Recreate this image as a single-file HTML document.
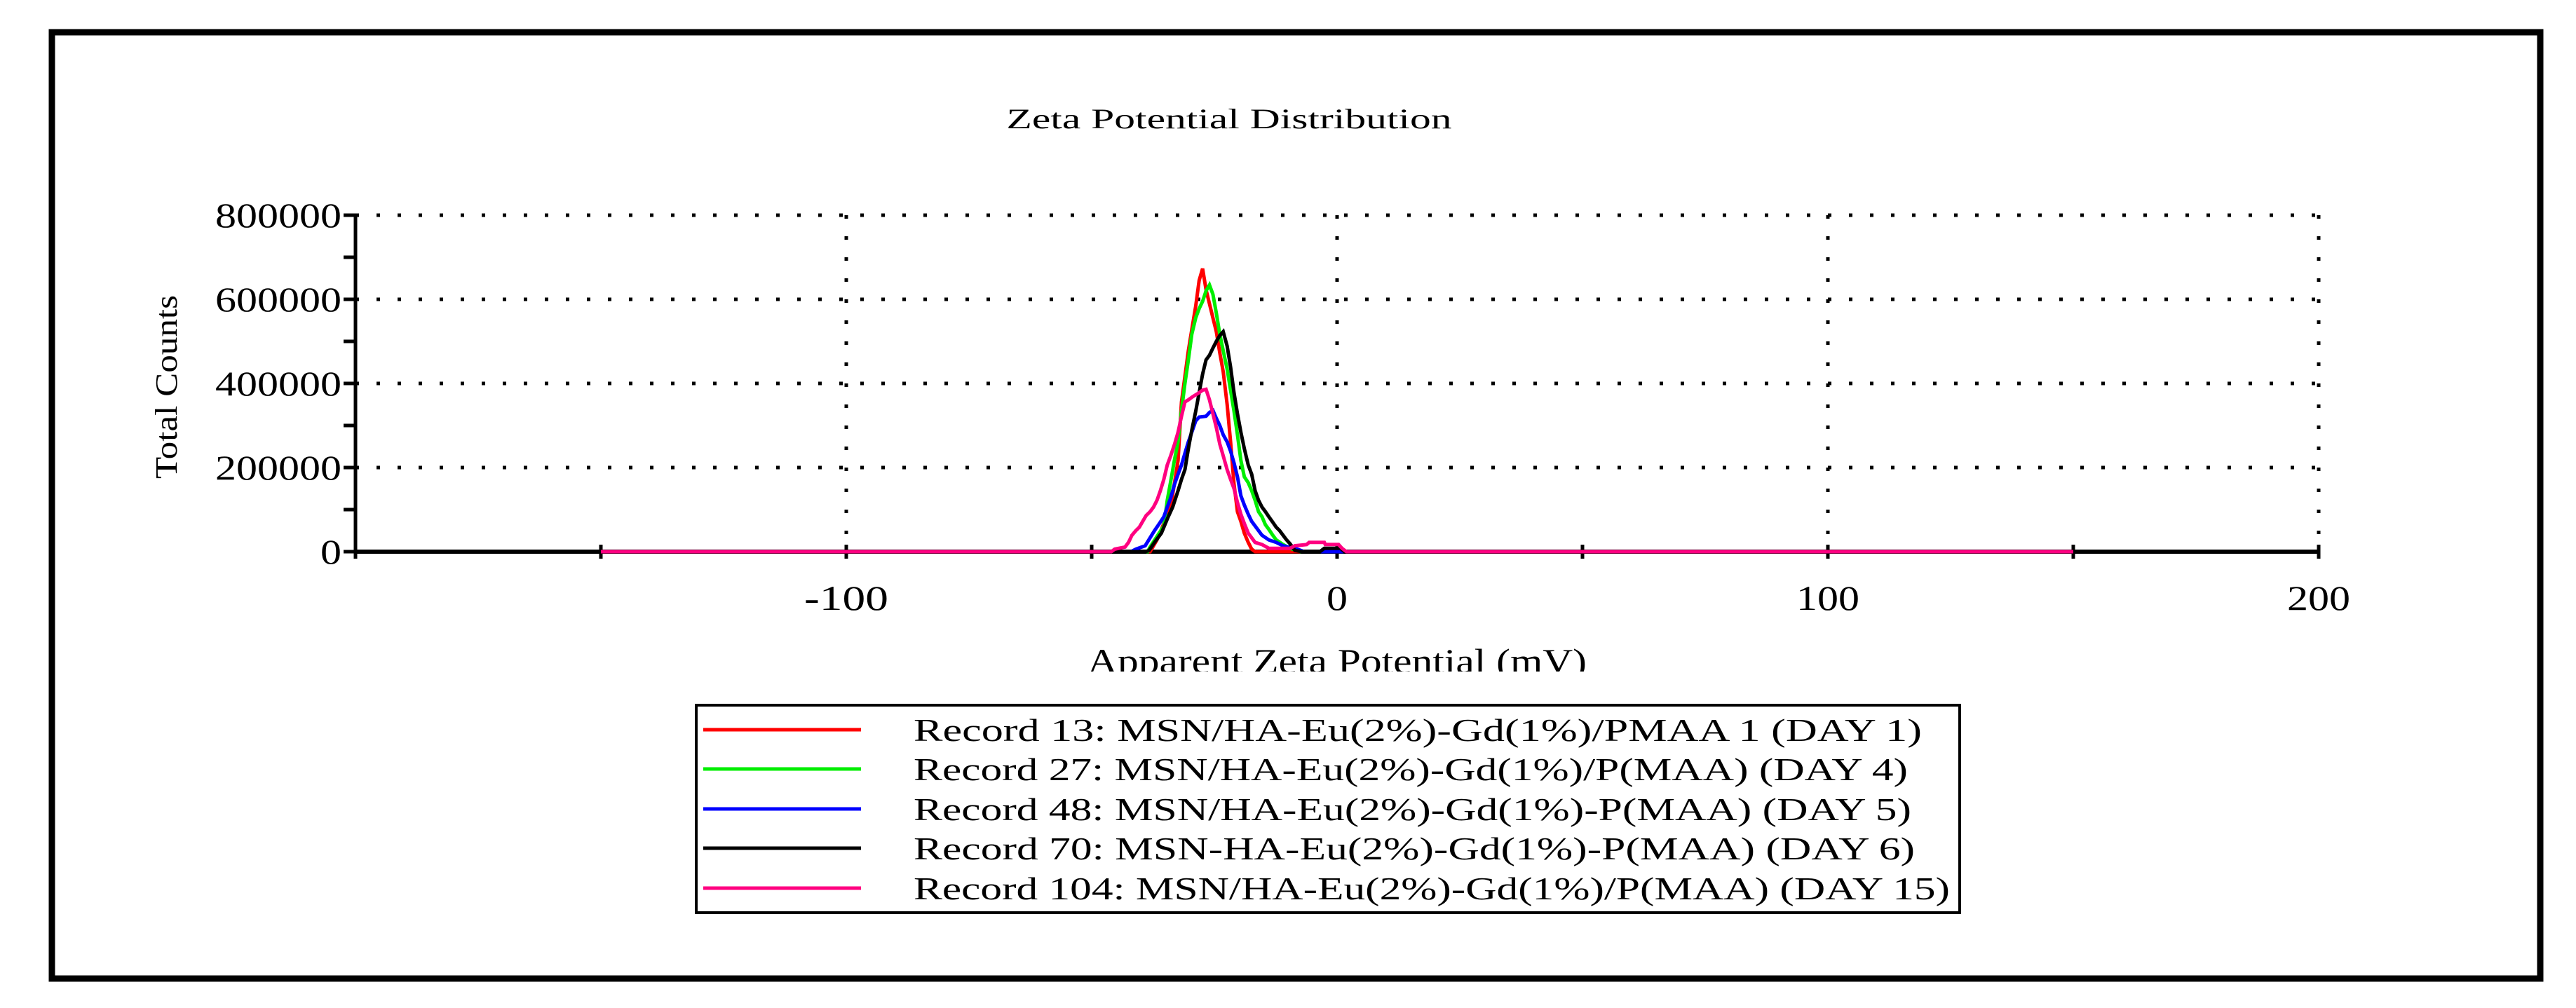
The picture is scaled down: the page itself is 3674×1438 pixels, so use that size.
<!DOCTYPE html>
<html><head><meta charset="utf-8"><style>
html,body{margin:0;padding:0;background:#fff}
svg{display:block}
text{font-family:"Liberation Serif",serif;fill:#000}
</style></head><body>
<svg id="chart" width="3674" height="1438" viewBox="0 0 3674 1438" xmlns="http://www.w3.org/2000/svg">
<rect x="0" y="0" width="3674" height="1438" fill="#fff"/>
<rect x="74" y="46" width="3549" height="1350" fill="none" stroke="#000" stroke-width="9"/>
<text x="1753" y="183" font-size="40" text-anchor="middle" textLength="635" lengthAdjust="spacingAndGlyphs">Zeta Potential Distribution</text>
<g id="grid"></g>
<g id="axes"></g>
<g id="series"></g>
<defs><clipPath id="xtclip"><rect x="0" y="900" width="3674" height="58"/></clipPath></defs>
<text clip-path="url(#xtclip)" x="1907" y="960" font-size="50" text-anchor="middle" textLength="712" lengthAdjust="spacingAndGlyphs">Apparent Zeta Potential (mV)</text>
<text transform="translate(252,552) rotate(-90)" font-size="44" text-anchor="middle" textLength="262" lengthAdjust="spacingAndGlyphs">Total Counts</text>
<g id="legend">
<rect x="993" y="1006" width="1802" height="296" fill="#fff" stroke="#000" stroke-width="4"/>
</g>
</svg>
<script>
const xTicks=[-100,0,100,200];
const yTicks=[0,200000,400000,600000,800000];
const yTickLabels=["0","200000","400000","600000","800000"];
const seriesNames=["Record 13: MSN/HA-Eu(2%)-Gd(1%)/PMAA 1  (DAY 1)","Record 27: MSN/HA-Eu(2%)-Gd(1%)/P(MAA) (DAY 4)","Record 48: MSN/HA-Eu(2%)-Gd(1%)-P(MAA) (DAY 5)","Record 70: MSN-HA-Eu(2%)-Gd(1%)-P(MAA) (DAY 6)","Record 104: MSN/HA-Eu(2%)-Gd(1%)/P(MAA) (DAY 15)"];
const seriesColors=["#ff0000","#00ee00","#0000ff","#000000","#ff0080"];
const redX=[-150,-38.1,-36.7,-33.9,-32.4,-31.7,-31.0,-30.3,-29.6,-28.8,-28.1,-27.4,-26.7,-25.3,-24.6,-23.9,-23.2,-22.4,-21.7,-21.0,-20.3,-19.6,-18.9,-18.1,-17.4,-16.7,150];
const redY=[0,0,28,106,217,356,417,478,528,584,645,673,623,556,523,473,428,350,261,161,95,72,44,22,6,0,0];
const greenX=[-150,-38.6,-38.1,-35.3,-34.6,-33.9,-33.1,-32.4,-31.7,-31.0,-30.3,-29.6,-28.8,-28.1,-27.4,-26.7,-26.0,-25.3,-24.6,-23.9,-23.2,-22.4,-21.7,-21.0,-20.3,-19.6,-18.9,-18.1,-17.4,-16.7,-16.0,-15.3,-14.6,-13.9,-13.1,-12.4,-11.0,-9.6,-7.4,150];
const greenY=[0,0,11,61,122,167,220,261,336,400,456,517,556,578,595,620,634,612,567,517,478,434,384,334,278,217,178,164,145,122,95,83,64,53,39,28,17,8,0,0];
const blueX=[-150,-42,-41.0,-39.1,-38.1,-37.2,-36.2,-35.3,-34.6,-33.9,-33.1,-32.4,-31.7,-31.0,-30.3,-29.6,-28.8,-28.1,-26.7,-26.0,-25.3,-24.6,-23.9,-23.2,-22.4,-21.7,-21.0,-20.3,-19.6,-18.9,-18.1,-17.4,-16.7,-16.0,-15.3,-13.9,-12.4,-11.0,-8.1,-6.7,150];
const blueY=[0,0,6,14,33,50,67,83,106,128,161,184,206,234,261,284,311,320,322,331,336,317,300,278,261,239,211,178,133,111,89,72,61,50,39,28,22,14,6,0,0];
const blackX=[-150,-39,-38.3,-37.2,-35.8,-34.4,-33.5,-32.4,-31.7,-31.0,-30.3,-29.6,-28.8,-28.1,-27.4,-26.7,-26.0,-25.3,-24.6,-23.9,-23.2,-22.4,-21.7,-21.0,-20.3,-19.6,-18.9,-18.1,-17.4,-16.7,-16.0,-15.3,-14.6,-13.9,-13.1,-12.4,-11.7,-11.0,-10.3,-9.6,-8.6,-7.2,-3.5,-2.6,0.7,1.5,150];
const blackY=[0,0,3,22,44,83,106,145,172,195,245,289,334,378,422,456,467,484,500,514,523,489,439,378,328,284,245,206,184,145,122,106,95,83,70,58,50,39,28,19,3,0,0,8,8,0,0];
const pinkX=[-150,-46,-45.3,-43.2,-42.5,-41.8,-41.0,-40.3,-39.6,-38.9,-38.1,-37.4,-36.7,-36.0,-35.3,-34.6,-33.9,-33.1,-32.4,-31.7,-31.0,-30.3,-29.6,-28.8,-28.1,-27.4,-26.7,-26.0,-25.3,-24.6,-23.9,-23.2,-22.4,-21.7,-21.0,-20.3,-19.6,-18.9,-18.1,-17.4,-16.7,-15.3,-13.9,-9.6,-8.6,-6.2,-5.7,-2.6,-2.4,0.3,1.0,1.9,150];
const pinkY=[0,0,6,11,22,39,50,58,72,86,95,106,122,145,172,206,228,256,284,322,356,361,367,373,378,384,386,361,328,295,256,228,195,172,150,117,89,67,44,33,22,17,8,8,14,17,22,22,17,17,8,0,0];
const allX=[redX,greenX,blueX,blackX,pinkX];
const allY=[redY,greenY,blueY,blackY,pinkY];

const NS="http://www.w3.org/2000/svg";
const X0=507,X1=3307,Y0=787,Y1=307;
function xs(v){return X0+(v+200)/400*(X1-X0);}
function ys(v){return Y0-v/800000*(Y0-Y1);}
function mk(tag,attrs,parent){const e=document.createElementNS(NS,tag);for(const k in attrs)e.setAttribute(k,attrs[k]);parent.appendChild(e);return e;}
const grid=document.getElementById('grid'),axes=document.getElementById('axes'),ser=document.getElementById('series'),leg=document.getElementById('legend');
// horizontal grid
yTicks.forEach((t,i)=>{
  if(t>0){const l=mk('line',{x1:X0,x2:X1+5,y1:ys(t),y2:ys(t),stroke:'#000','stroke-width':5,'stroke-dasharray':'5 25'},grid);
  
  }
  const tx=mk('text',{x:487,y:ys(t)+17,'font-size':50,'text-anchor':'end',textLength:yTickLabels[i].length*30,lengthAdjust:'spacingAndGlyphs'},axes);
  tx.textContent=yTickLabels[i];
  
  
});
xTicks.forEach(t=>{
  const l=mk('line',{x1:xs(t),x2:xs(t),y1:Y1,y2:Y0,stroke:'#000','stroke-width':5,'stroke-dasharray':'5 25'},grid);
  
  
  const tx=mk('text',{x:xs(t),y:870,'font-size':50,'text-anchor':'middle',textLength:String(t).length*30,lengthAdjust:'spacingAndGlyphs'},axes);
  tx.textContent=String(t);
  
  
});
// axes lines and ticks
const ya=mk('line',{x1:X0,x2:X0,y1:Y1,y2:Y0+10,stroke:'#000','stroke-width':5},axes);


for(let v=0;v<=800000;v+=100000){const t=mk('line',{x1:X0-17,x2:X0,y1:ys(v),y2:ys(v),stroke:'#000','stroke-width':5},axes);

}
for(let v=-200;v<=200;v+=50){const t=mk('line',{x1:xs(v),x2:xs(v),y1:Y0-10,y2:Y0+10,stroke:'#000','stroke-width':5},axes);

}
const xa=mk('line',{x1:X0,x2:X1,y1:Y0,y2:Y0,stroke:'#000','stroke-width':6},axes);


// series
allX.forEach((xsArr,i)=>{
  const pts=xsArr.map((v,j)=>xs(v).toFixed(1)+','+ys(allY[i][j]*1000).toFixed(1)).join(' ');
  const p=mk('polyline',{points:pts,fill:'none',stroke:seriesColors[i],'stroke-width':5,'stroke-linejoin':'miter'},ser);
  
  
});
// legend
const rowY=[1041,1097,1154,1210,1267];
seriesNames.forEach((n,i)=>{
  const l=mk('line',{x1:1003,x2:1228,y1:rowY[i],y2:rowY[i],stroke:seriesColors[i],'stroke-width':5},leg);
  
  
  const widths=[1438,1418,1423,1428,1478];
  const t=mk('text',{x:1303,y:rowY[i]+16,'font-size':46,textLength:widths[i],lengthAdjust:'spacingAndGlyphs'},leg);
  t.textContent=n;
  
  
});
</script>
</body></html>
